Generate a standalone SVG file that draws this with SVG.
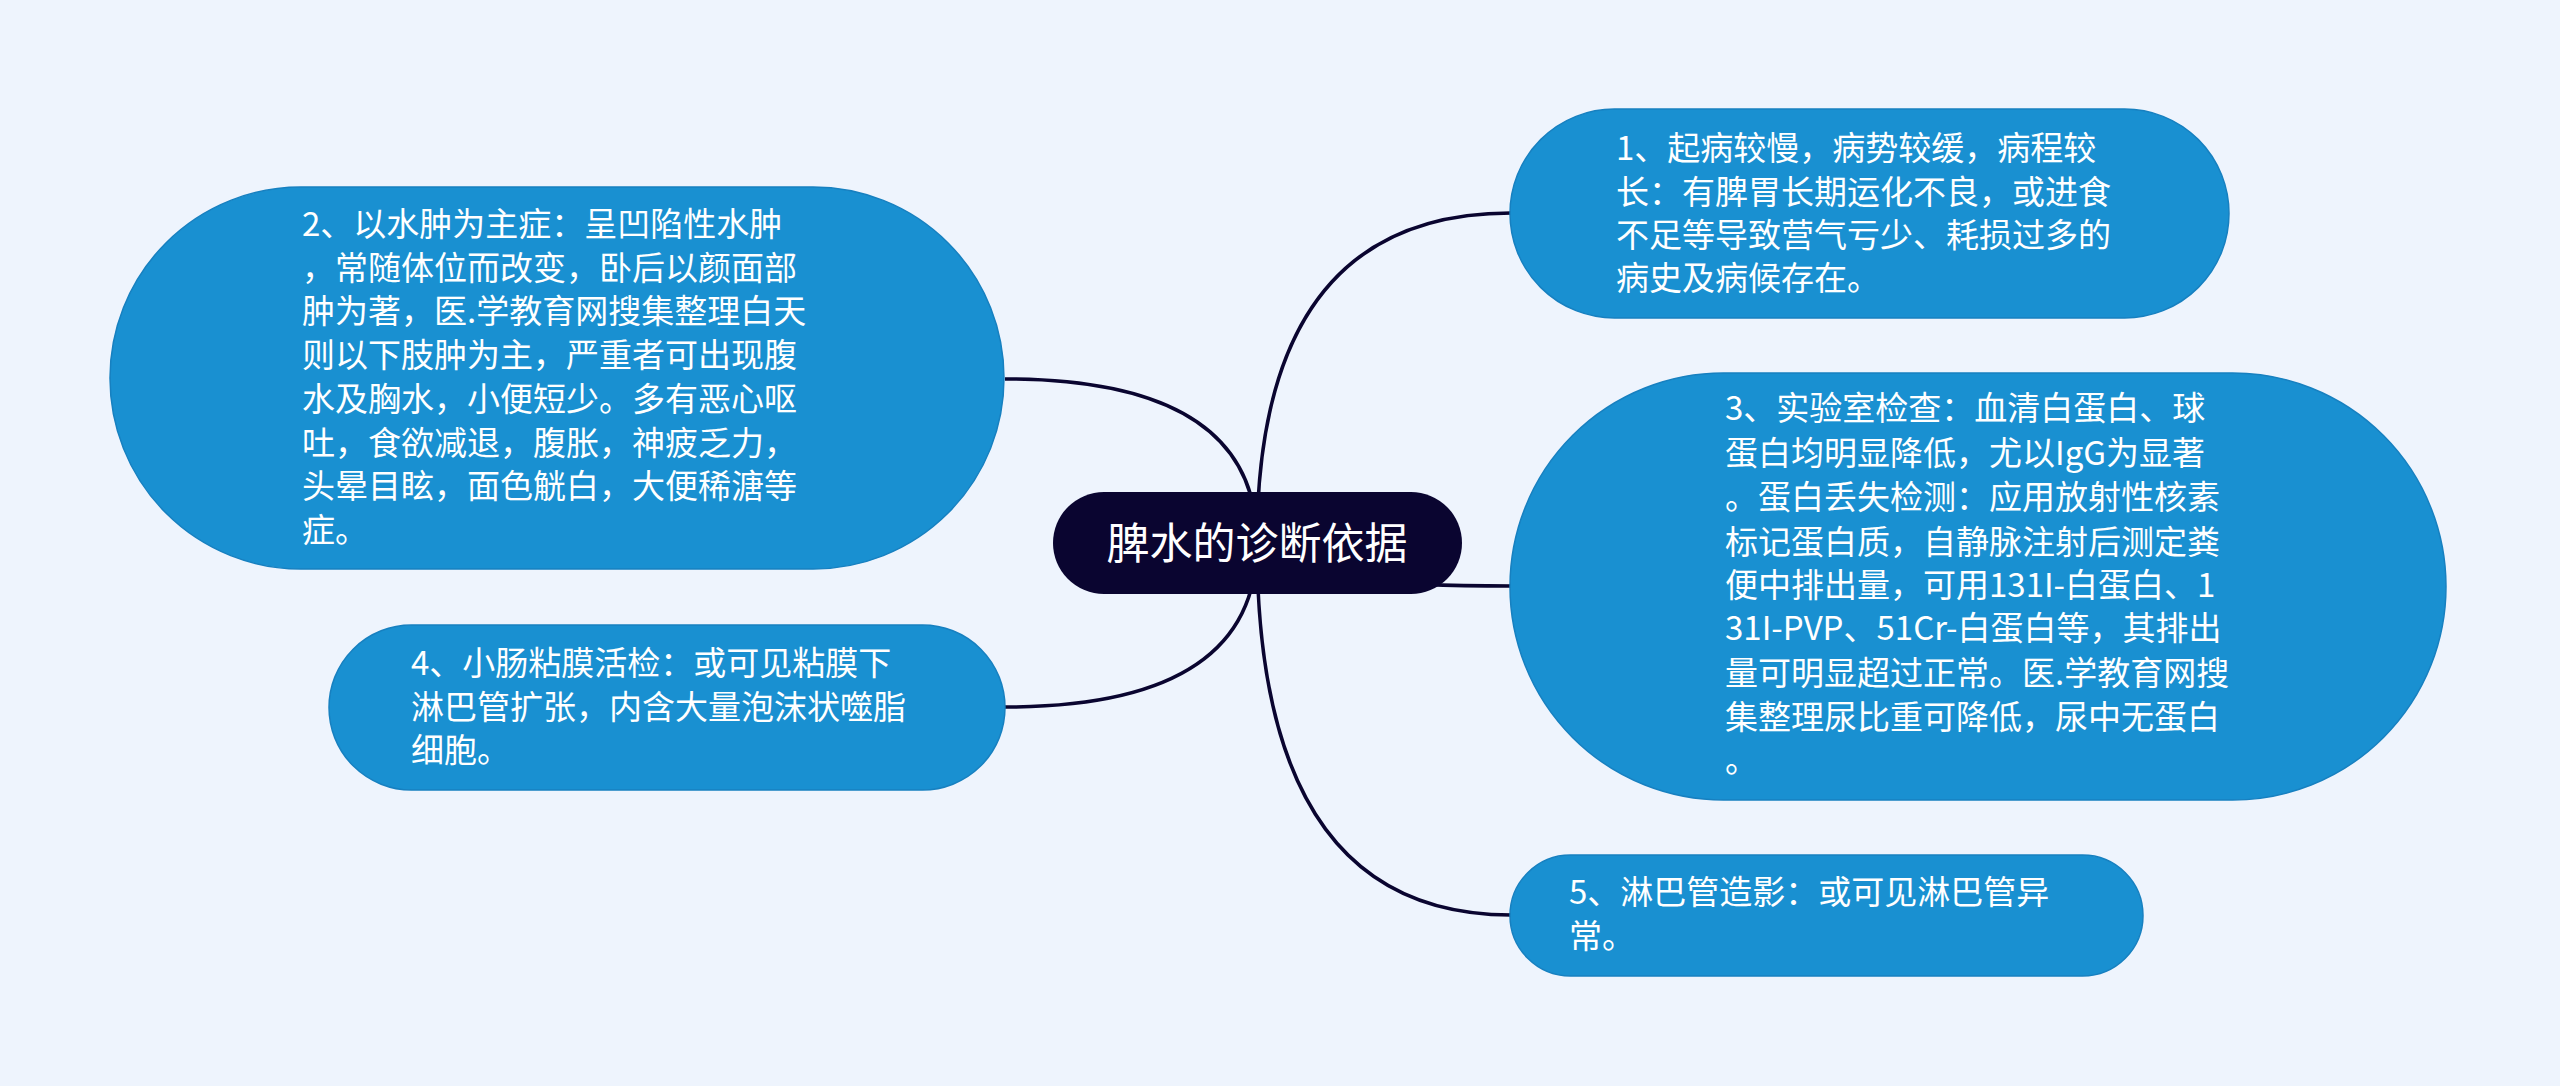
<svg xmlns="http://www.w3.org/2000/svg" width="2560" height="1086" viewBox="0 0 2560 1086">
<style>
.bg{fill:#eef4fd}
.topic{fill:#1990d1;stroke:#1780c0;stroke-width:1.5}
.root{fill:#0a0530}
.t{font-family:"Noto Sans CJK SC","Noto Sans",sans-serif;font-size:33px;fill:#ffffff}
.rt{font-family:"Noto Sans CJK SC","Noto Sans",sans-serif;font-size:43px;fill:#ffffff;text-anchor:middle}
.c{fill:none;stroke:#0a0530;stroke-width:3.5}
</style>
<rect class="bg" x="0" y="0" width="2560" height="1086"/>
<g id="connectors">
<path class="c" d="M1257 543 Q1257 379 1005 379"/>
<path class="c" d="M1257 543 Q1257 707 1005 707"/>
<path class="c" d="M1257 543 Q1257 213 1511 213"/>
<path class="c" d="M1257 543 Q1257 586 1511 586"/>
<path class="c" d="M1257 543 Q1257 915 1511 915"/>
</g>
<g id="root">
<rect class="root" x="1053" y="492" width="409" height="102" rx="51" ry="51"/>
<text class="rt" x="1257" y="559">脾水的诊断依据</text>
</g>
<g id="node2">
<rect class="topic" x="110" y="187" width="894" height="382" rx="191" ry="191"/>
<text class="t"><tspan x="302" y="236">2、以水肿为主症：呈凹陷性水肿</tspan><tspan x="302" y="279.7">，常随体位而改变，卧后以颜面部</tspan><tspan x="302" y="323.4">肿为著，医.学教育网搜集整理白天</tspan><tspan x="302" y="367.1">则以下肢肿为主，严重者可出现腹</tspan><tspan x="302" y="410.8">水及胸水，小便短少。多有恶心呕</tspan><tspan x="302" y="454.5">吐，食欲减退，腹胀，神疲乏力，</tspan><tspan x="302" y="498.2">头晕目眩，面色觥白，大便稀溏等</tspan><tspan x="302" y="541.9">症。</tspan></text>
</g>
<g id="node4">
<rect class="topic" x="329" y="625" width="676" height="165" rx="82.5" ry="82.5"/>
<text class="t"><tspan x="411" y="675">4、小肠粘膜活检：或可见粘膜下</tspan><tspan x="411" y="719">淋巴管扩张，内含大量泡沫状噬脂</tspan><tspan x="411" y="762">细胞。</tspan></text>
</g>
<g id="node1">
<rect class="topic" x="1510" y="109" width="719" height="209" rx="104.5" ry="104.5"/>
<text class="t"><tspan x="1616" y="160">1、起病较慢，病势较缓，病程较</tspan><tspan x="1616" y="204">长：有脾胃长期运化不良，或进食</tspan><tspan x="1616" y="247">不足等导致营气亏少、耗损过多的</tspan><tspan x="1616" y="290">病史及病候存在。</tspan></text>
</g>
<g id="node3">
<rect class="topic" x="1510" y="373" width="936" height="427" rx="213.5" ry="213.5"/>
<text class="t"><tspan x="1725" y="420">3、实验室检查：血清白蛋白、球</tspan><tspan x="1725" y="465">蛋白均明显降低，尤以IgG为显著</tspan><tspan x="1725" y="509">。蛋白丢失检测：应用放射性核素</tspan><tspan x="1725" y="554">标记蛋白质，自静脉注射后测定粪</tspan><tspan x="1725" y="597">便中排出量，可用131I-白蛋白、1</tspan><tspan x="1725" y="640">31I-PVP、51Cr-白蛋白等，其排出</tspan><tspan x="1725" y="685">量可明显超过正常。医.学教育网搜</tspan><tspan x="1725" y="729">集整理尿比重可降低，尿中无蛋白</tspan><tspan x="1725" y="772">。</tspan></text>
</g>
<g id="node5">
<rect class="topic" x="1510" y="855" width="633" height="121" rx="60.5" ry="60.5"/>
<text class="t"><tspan x="1569" y="904">5、淋巴管造影：或可见淋巴管异</tspan><tspan x="1569" y="948">常。</tspan></text>
</g>
</svg>
